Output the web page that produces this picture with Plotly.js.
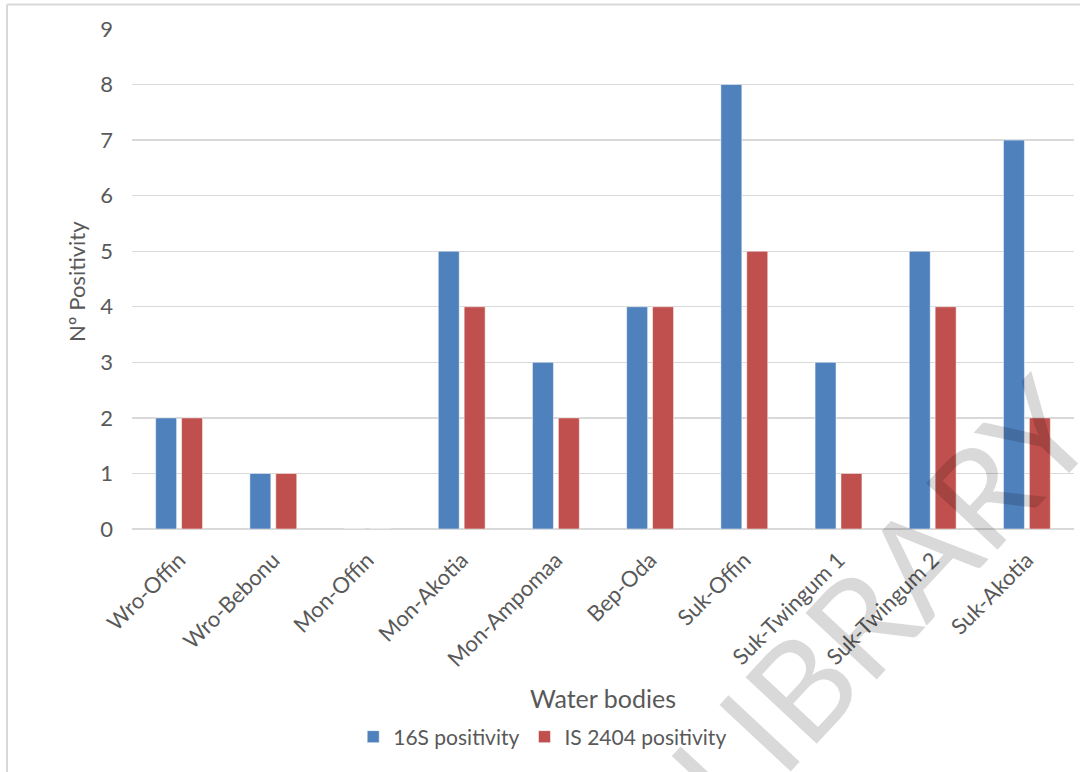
<!DOCTYPE html>
<html>
<head>
<meta charset="utf-8">
<script src="https://cdn.plot.ly/plotly-3.0.1.min.js"></script>
<style>
html,body{margin:0;padding:0;background:#fff;}
#chart{width:1080px;height:772px;}
</style>
</head>
<body>
<div id="chart"></div>
<script>
const categories = ["Wro-Offin","Wro-Bebonu","Mon-Offin","Mon-Akotia","Mon-Ampomaa","Bep-Oda","Suk-Offin","Suk-Twingum 1","Suk-Twingum 2","Suk-Akotia"];
const positivity16S = [2,1,0,5,3,4,8,3,5,7];
const positivityIS2404 = [2,1,0,4,2,4,5,1,4,2];
const seriesNames = ["16S positivity","IS 2404 positivity"];
const yTicks = [0,1,2,3,4,5,6,7,8,9];

const FONT = "Lato, 'Open Sans', sans-serif";
const TXT = "#595959";

const traces = [
  {type:"bar", name:seriesNames[0], x:categories, y:positivity16S,
   marker:{color:"#4F81BD", line:{color:"rgba(255,255,255,0.5)", width:1}}},
  {type:"bar", name:seriesNames[1], x:categories, y:positivityIS2404,
   marker:{color:"#C0504D", line:{color:"rgba(255,255,255,0.5)", width:1}}}
];

const layout = {
  width:1080, height:772,
  margin:{l:132, r:6, t:29, b:243},
  paper_bgcolor:"#fff", plot_bgcolor:"#fff",
  barmode:"group", bargap:0.45, bargroupgap:0.19,
  font:{family:FONT, color:TXT, size:22},
  showlegend:true,
  legend:{orientation:"h", x:0.436, xanchor:"center", y:-0.416, yanchor:"middle",
          font:{family:FONT, size:21, color:TXT}, itemwidth:30, traceorder:"normal"},
  xaxis:{
    type:"category", tickangle:-45, showgrid:false, zeroline:false, showline:false,
    ticks:"", ticklabelstandoff:13,
    tickfont:{family:FONT, size:22, color:TXT},
    title:{text:"Water bodies", font:{family:FONT, size:25, color:TXT}, standoff:19},
    automargin:false, fixedrange:true
  },
  yaxis:{
    range:[0,9], tickvals:yTicks, ticktext:yTicks.map(String),
    showgrid:true, gridcolor:"#d9d9d9", gridwidth:1.3,
    zeroline:true, zerolinecolor:"#d9d9d9", zerolinewidth:1.3,
    showline:false, ticks:"", ticklabelstandoff:18,
    tickfont:{family:FONT, size:22, color:TXT},
    title:{text:""},
    automargin:false, fixedrange:true
  },
  shapes:[
    {type:"line", xref:"paper", yref:"paper", x0:-0.1327, x1:1.01, y0:1.049, y1:1.049,
     line:{color:"#d9d9d9", width:2}},
    {type:"line", xref:"paper", yref:"paper", x0:-0.1327, x1:-0.1327, y0:1.049, y1:-0.49,
     line:{color:"#d9d9d9", width:2}}
  ],
  annotations:[
    {text:"Nº Positivity", xref:"paper", yref:"paper", x:(76-132)/942, y:(529-282)/500,
     xanchor:"center", yanchor:"middle", showarrow:false, textangle:-90,
     font:{family:FONT, size:22, color:TXT}},
    {text:"LIBRARY", xref:"paper", yref:"paper", x:(880-132)/942, y:(529-598)/500,
     xanchor:"center", yanchor:"middle", showarrow:false, textangle:-47,
     font:{family:FONT, size:136, color:"rgba(0,0,0,0.15)"}}
  ]
};

Plotly.newPlot("chart", traces, layout, {displayModeBar:false, staticPlot:true});
</script>
</body>
</html>
